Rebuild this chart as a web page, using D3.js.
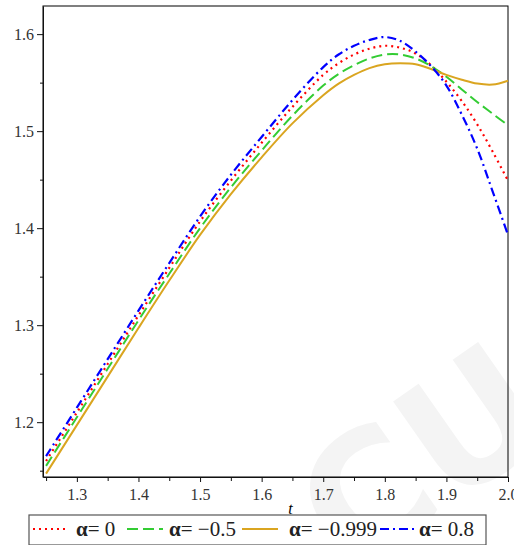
<!DOCTYPE html>
<html>
<head>
  <meta charset="UTF-8">
  <title>alpha curves</title>
  <script src="https://d3js.org/d3.v7.min.js"></script>
  <style>
    body { margin: 0; background: #fff; }
    text { font-family: "Liberation Serif", "DejaVu Serif", serif; }
  </style>
</head>
<body>
  <div id="chart"></div>
  <script>
    // sample points in t
    const tValues = [1.25, 1.3, 1.35, 1.4, 1.45, 1.5, 1.55, 1.6, 1.65, 1.7, 1.725, 1.75, 1.775, 1.8,
                     1.825, 1.85, 1.875, 1.9, 1.925, 1.95, 1.975, 2.0];
    const alpha0 =    [1.160, 1.210, 1.260, 1.310, 1.359, 1.407, 1.449, 1.488, 1.525, 1.558, 1.570, 1.579, 1.585, 1.588,
                       1.586, 1.580, 1.568, 1.551, 1.531, 1.507, 1.479, 1.449];
    const alphaM05 =  [1.155, 1.205, 1.255, 1.305, 1.353, 1.400, 1.442, 1.480, 1.516, 1.547, 1.559, 1.568, 1.575, 1.579,
                       1.579, 1.575, 1.567, 1.556, 1.543, 1.530, 1.518, 1.506];
    const alphaM999 = [1.147, 1.197, 1.247, 1.297, 1.346, 1.393, 1.435, 1.473, 1.508, 1.537, 1.549, 1.558, 1.565, 1.569,
                       1.570, 1.569, 1.564, 1.558, 1.553, 1.549, 1.548, 1.552];
    const alpha08 =   [1.165, 1.215, 1.265, 1.315, 1.364, 1.412, 1.455, 1.494, 1.532, 1.566, 1.579, 1.588, 1.594, 1.597,
                       1.593, 1.582, 1.567, 1.547, 1.517, 1.482, 1.438, 1.393];

    const xTicks = [1.3, 1.4, 1.5, 1.6, 1.7, 1.8, 1.9, 2.0];
    const yTicks = [1.2, 1.3, 1.4, 1.5, 1.6];
    const legendLabels = ["α= 0", "α= −0.5", "α= −0.999", "α= 0.8"];

    const series = [
      {label: legendLabels[0], values: alpha0, color: "#ff0000", dash: "2,4", width: 2.2},
      {label: legendLabels[1], values: alphaM05, color: "#33cc33", dash: "11,5", width: 2},
      {label: legendLabels[2], values: alphaM999, color: "#daa520", dash: null, width: 2},
      {label: legendLabels[3], values: alpha08, color: "#0000ff", dash: "9,4,2,4", width: 2.2}
    ];

    const W = 514, H = 545;
    const margin = {top: 6, right: 6, bottom: 68, left: 43};
    const width = W - margin.left - margin.right,
          height = H - margin.top - margin.bottom;

    const root = d3.select("#chart").append("svg")
      .attr("width", W).attr("height", H);

    // faint watermark
    root.append("text")
      .attr("transform", "translate(455,505) rotate(-35)")
      .attr("text-anchor", "middle")
      .style("font-family", "DejaVu Sans")
      .style("font-size", "165px")
      .style("font-weight", "bold")
      .attr("fill", "#f4f4f4")
      .text("CU");

    const svg = root.append("g")
      .attr("transform", `translate(${margin.left},${margin.top})`);

    const x = d3.scaleLinear().domain([1.245, 2.0]).range([0, width]);
    const y = d3.scaleLinear().domain([1.1435, 1.629]).range([height, 0]);

    // frame
    svg.append("rect")
      .attr("width", width).attr("height", height)
      .attr("fill", "none").attr("stroke", "#000").attr("stroke-width", 1);

    // minor ticks
    const xMinor = d3.range(1.25, 2.001, 0.05).filter(v => !xTicks.some(t => Math.abs(t - v) < 1e-6));
    const yMinor = d3.range(1.15, 1.63, 0.1);

    svg.append("g")
      .attr("transform", `translate(0,${height})`)
      .call(d3.axisBottom(x).tickValues(xTicks).tickFormat(d3.format(".1f")).tickSize(5).tickPadding(7).tickSizeOuter(0));
    svg.append("g")
      .attr("transform", `translate(0,${height})`)
      .call(d3.axisBottom(x).tickValues(xMinor).tickFormat("").tickSize(4).tickSizeOuter(0))
      .select(".domain").remove();

    svg.append("g")
      .call(d3.axisLeft(y).tickValues(yTicks).tickFormat(d3.format(".1f")).tickSize(6).tickPadding(3).tickSizeOuter(0));
    svg.append("g")
      .call(d3.axisLeft(y).tickValues(yMinor).tickFormat("").tickSize(3).tickSizeOuter(0))
      .select(".domain").remove();

    svg.selectAll(".tick text")
      .style("font-family", "'Liberation Serif', serif")
      .style("font-size", "16px")
      .attr("fill", "#333");
    svg.selectAll(".tick line, .domain").attr("stroke", "#111");

    // x label
    svg.append("text")
      .attr("x", x(1.647)).attr("y", height + 37)
      .attr("text-anchor", "middle")
      .style("font-size", "16px").style("font-style", "italic")
      .text("t");

    const line = d3.line()
      .x((d, i) => x(tValues[i]))
      .y(d => y(d))
      .curve(d3.curveCatmullRom.alpha(0.5));

    svg.append("g").selectAll("path.curve")
      .data(series)
      .enter()
      .append("path")
      .attr("class", "curve")
      .attr("d", d => line(d.values))
      .attr("fill", "none")
      .attr("stroke", d => d.color)
      .attr("stroke-width", d => d.width)
      .attr("stroke-dasharray", d => d.dash);

    // legend
    const leg = root.append("g").attr("transform", "translate(29,515)");
    leg.append("rect")
      .attr("width", 457).attr("height", 30)
      .attr("fill", "#fff").attr("stroke", "#555").attr("stroke-width", 1.2);

    const legPos = [
      {lx: 4, tx: 47},
      {lx: 98, tx: 140},
      {lx: 213, tx: 260},
      {lx: 351, tx: 390}
    ];
    const items = leg.selectAll("g.item")
      .data(series)
      .enter()
      .append("g")
      .attr("class", "item");
    items.append("line")
      .attr("x1", (d, i) => legPos[i].lx)
      .attr("x2", (d, i) => legPos[i].lx + 36)
      .attr("y1", 14).attr("y2", 14)
      .attr("stroke", d => d.color)
      .attr("stroke-width", d => d.width)
      .attr("stroke-dasharray", d => d.dash);
    const lt = items.append("text")
      .attr("x", (d, i) => legPos[i].tx)
      .attr("y", 21)
      .style("font-size", "21px")
      .attr("fill", "#222");
    lt.append("tspan").style("font-weight", "bold").text(d => d.label.slice(0, 1));
    lt.append("tspan").text(d => d.label.slice(1));
  </script>
</body>
</html>
